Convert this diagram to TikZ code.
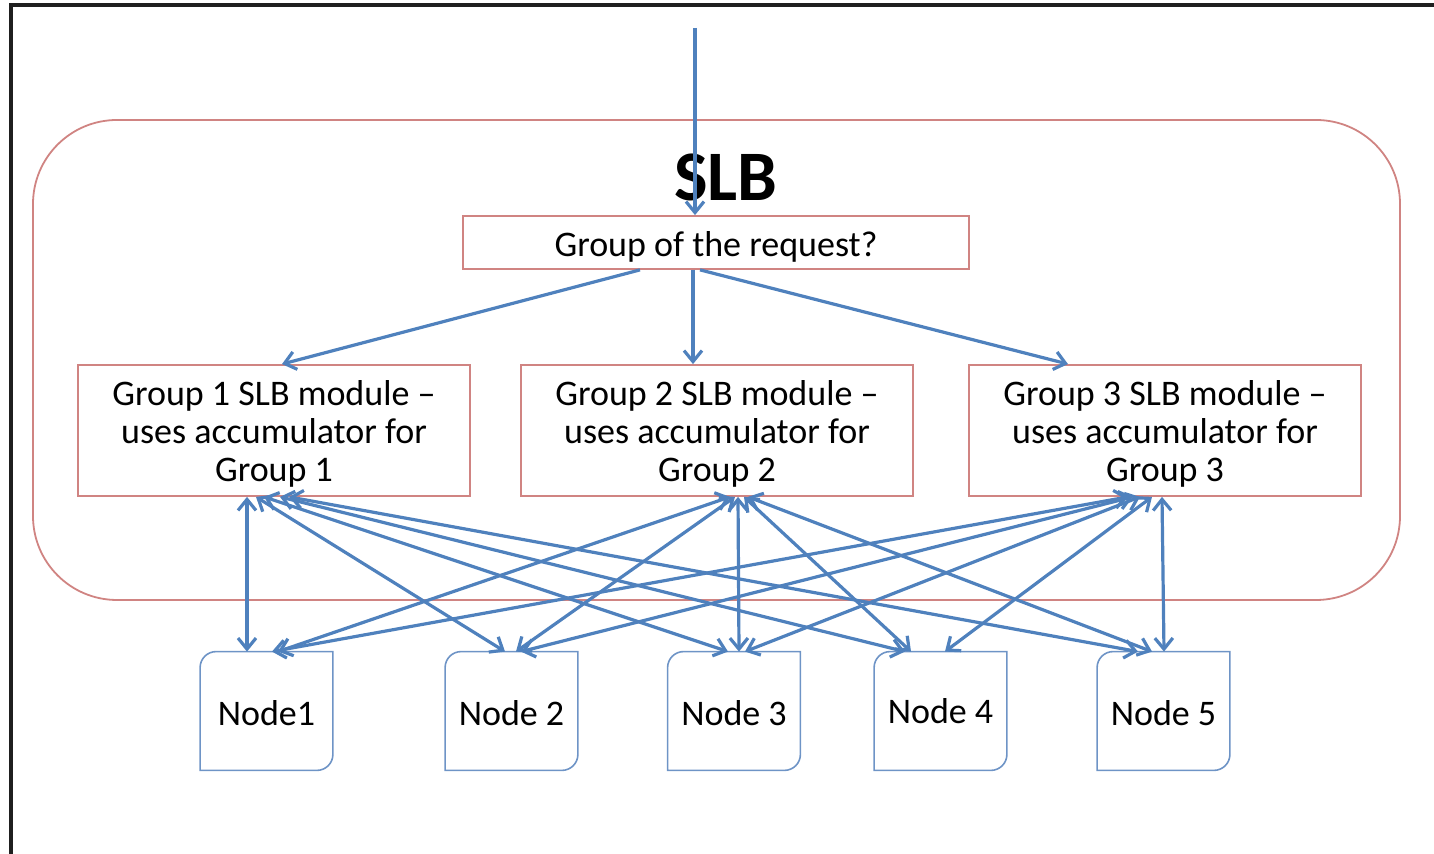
\documentclass[tikz,border=0pt]{standalone}
\usepackage{fontspec}
\setmainfont{Carlito}
\usetikzlibrary{arrows.meta,calc}
\definecolor{linkblue}{RGB}{79,129,189}
\definecolor{boxred}{RGB}{208,132,130}
\definecolor{tileblue}{RGB}{110,148,198}
% outline of a compute node: rounded top-left and bottom-right corners
\newcommand\tileoutline[1]{%
  \draw[tileline] (#1.south west) -- ([yshift=-8pt]#1.north west)
    arc[start angle=180,end angle=90,radius=8pt] -- (#1.north east)
    -- ([yshift=8pt]#1.south east)
    arc[start angle=0,end angle=-90,radius=8pt] -- cycle;}
\begin{document}
\begin{tikzpicture}[x=0.5pt,y=0.5pt,
  >={Straight Barb[length=5.5pt,width=9pt]},
  txt/.style={font=\fontsize{18}{19}\selectfont, text=black, align=center, inner sep=0pt},
  redbox/.style={draw=boxred, line width=0.9pt, fill=white, inner sep=0pt},
  groupbox/.style={redbox, minimum width=196pt, minimum height=65.5pt},
  tile/.style={minimum width=66pt, minimum height=59pt, inner sep=0pt},
  tileline/.style={draw=tileblue, line width=0.8pt},
  link/.style={linkblue, line width=1.6pt}]
\useasboundingbox (0,0) rectangle (1434,854);
\clip (0,0) rectangle (1434,854);

% outer frame
\draw[line width=2pt, black!88] (11,-30) -- (11,849) -- (1460,849);

% SLB container
\draw[draw=boxred, line width=0.9pt, rounded corners=42pt] (33,254) rectangle (1400,734);
\node[font=\fontsize{35.5}{38}\bfseries\selectfont] (slb) at (726,677) {SLB};

% dispatcher and per-group modules
\node[redbox, minimum width=253pt, minimum height=26.5pt] (req) at (716,611.5) {};
\node[txt] (reqt) at ([yshift=-2pt]req.center) {Group of the request?};
\node[groupbox] (g1) at (274,423.5) {};
\node[groupbox] (g2) at (717,423.5) {};
\node[groupbox] (g3) at (1165,423.5) {};
\node[txt] (g1t) at ([yshift=-1.5pt]g1.center) {Group 1 SLB module --\\uses accumulator for\\Group 1};
\node[txt] (g2t) at ([yshift=-1.5pt]g2.center) {Group 2 SLB module --\\uses accumulator for\\Group 2};
\node[txt] (g3t) at ([yshift=-1.5pt]g3.center) {Group 3 SLB module --\\uses accumulator for\\Group 3};

% compute nodes
\node[tile] (n1) at (266.5,143) {};
\node[tile] (n2) at (511.5,143) {};
\node[tile] (n3) at (734,143) {};
\node[tile] (n4) at (940.5,143) {};
\node[tile] (n5) at (1163.5,143) {};
\foreach \n in {n1,n2,n3,n4,n5} {\tileoutline{\n}}
\node[txt] (n1t) at ([yshift=-1pt]n1.center) {Node1};
\node[txt] (n2t) at ([yshift=-1pt]n2.center) {Node 2};
\node[txt] (n3t) at ([yshift=-1pt]n3.center) {Node 3};
\node[txt] (n4t) at (n4.center) {Node 4};
\node[txt] (n5t) at ([yshift=-1pt]n5.center) {Node 5};

% incoming request
\coordinate (in) at (695,826);
\draw[link,->] (in) -- (695,0 |- req.north);

% dispatch to the group modules
\draw[link,->] (640,0 |- req.south) -- (282,0 |- g1.north);
\draw[link,->] (693,0 |- req.south) -- (693,0 |- g2.north);
\draw[link,->] (700,0 |- req.south) -- (1068,0 |- g3.north);

% group modules <-> compute nodes
\draw[link,<->] (247,0 |- g1.south) -- (247,0 |- n1.north);
\draw[link,<->] (256,0 |- g1.south) -- (505,0 |- n2.north);
\draw[link,<->] (264,0 |- g1.south) -- (728,0 |- n3.north);
\draw[link,<->] (280,0 |- g1.south) -- (905,0 |- n4.north);
\draw[link,<->] (289,0 |- g1.south) -- (1138,0 |- n5.north);

\draw[link,<->] (730,0 |- g2.south) -- (278,0 |- n1.north);
\draw[link,<->] (735,0 |- g2.south) -- (516,0 |- n2.north);
\draw[link,<->] (738,0 |- g2.south) -- (739,0 |- n3.north);
\draw[link,<->] (744,0 |- g2.south) -- (911,0 |- n4.north);
\draw[link,<->] (748,0 |- g2.south) -- (1152,0 |- n5.north);

\draw[link,<->] (1128,0 |- g3.south) -- (272,0 |- n1.north);
\draw[link,<->] (1133,0 |- g3.south) -- (521,0 |- n2.north);
\draw[link,<->] (1140,0 |- g3.south) -- (745,0 |- n3.north);
\draw[link,<->] (1152,0 |- g3.south) -- (945,0 |- n4.north);
\draw[link,<->] (1162,0 |- g3.south) -- (1164,0 |- n5.north);
\end{tikzpicture}
\end{document}
